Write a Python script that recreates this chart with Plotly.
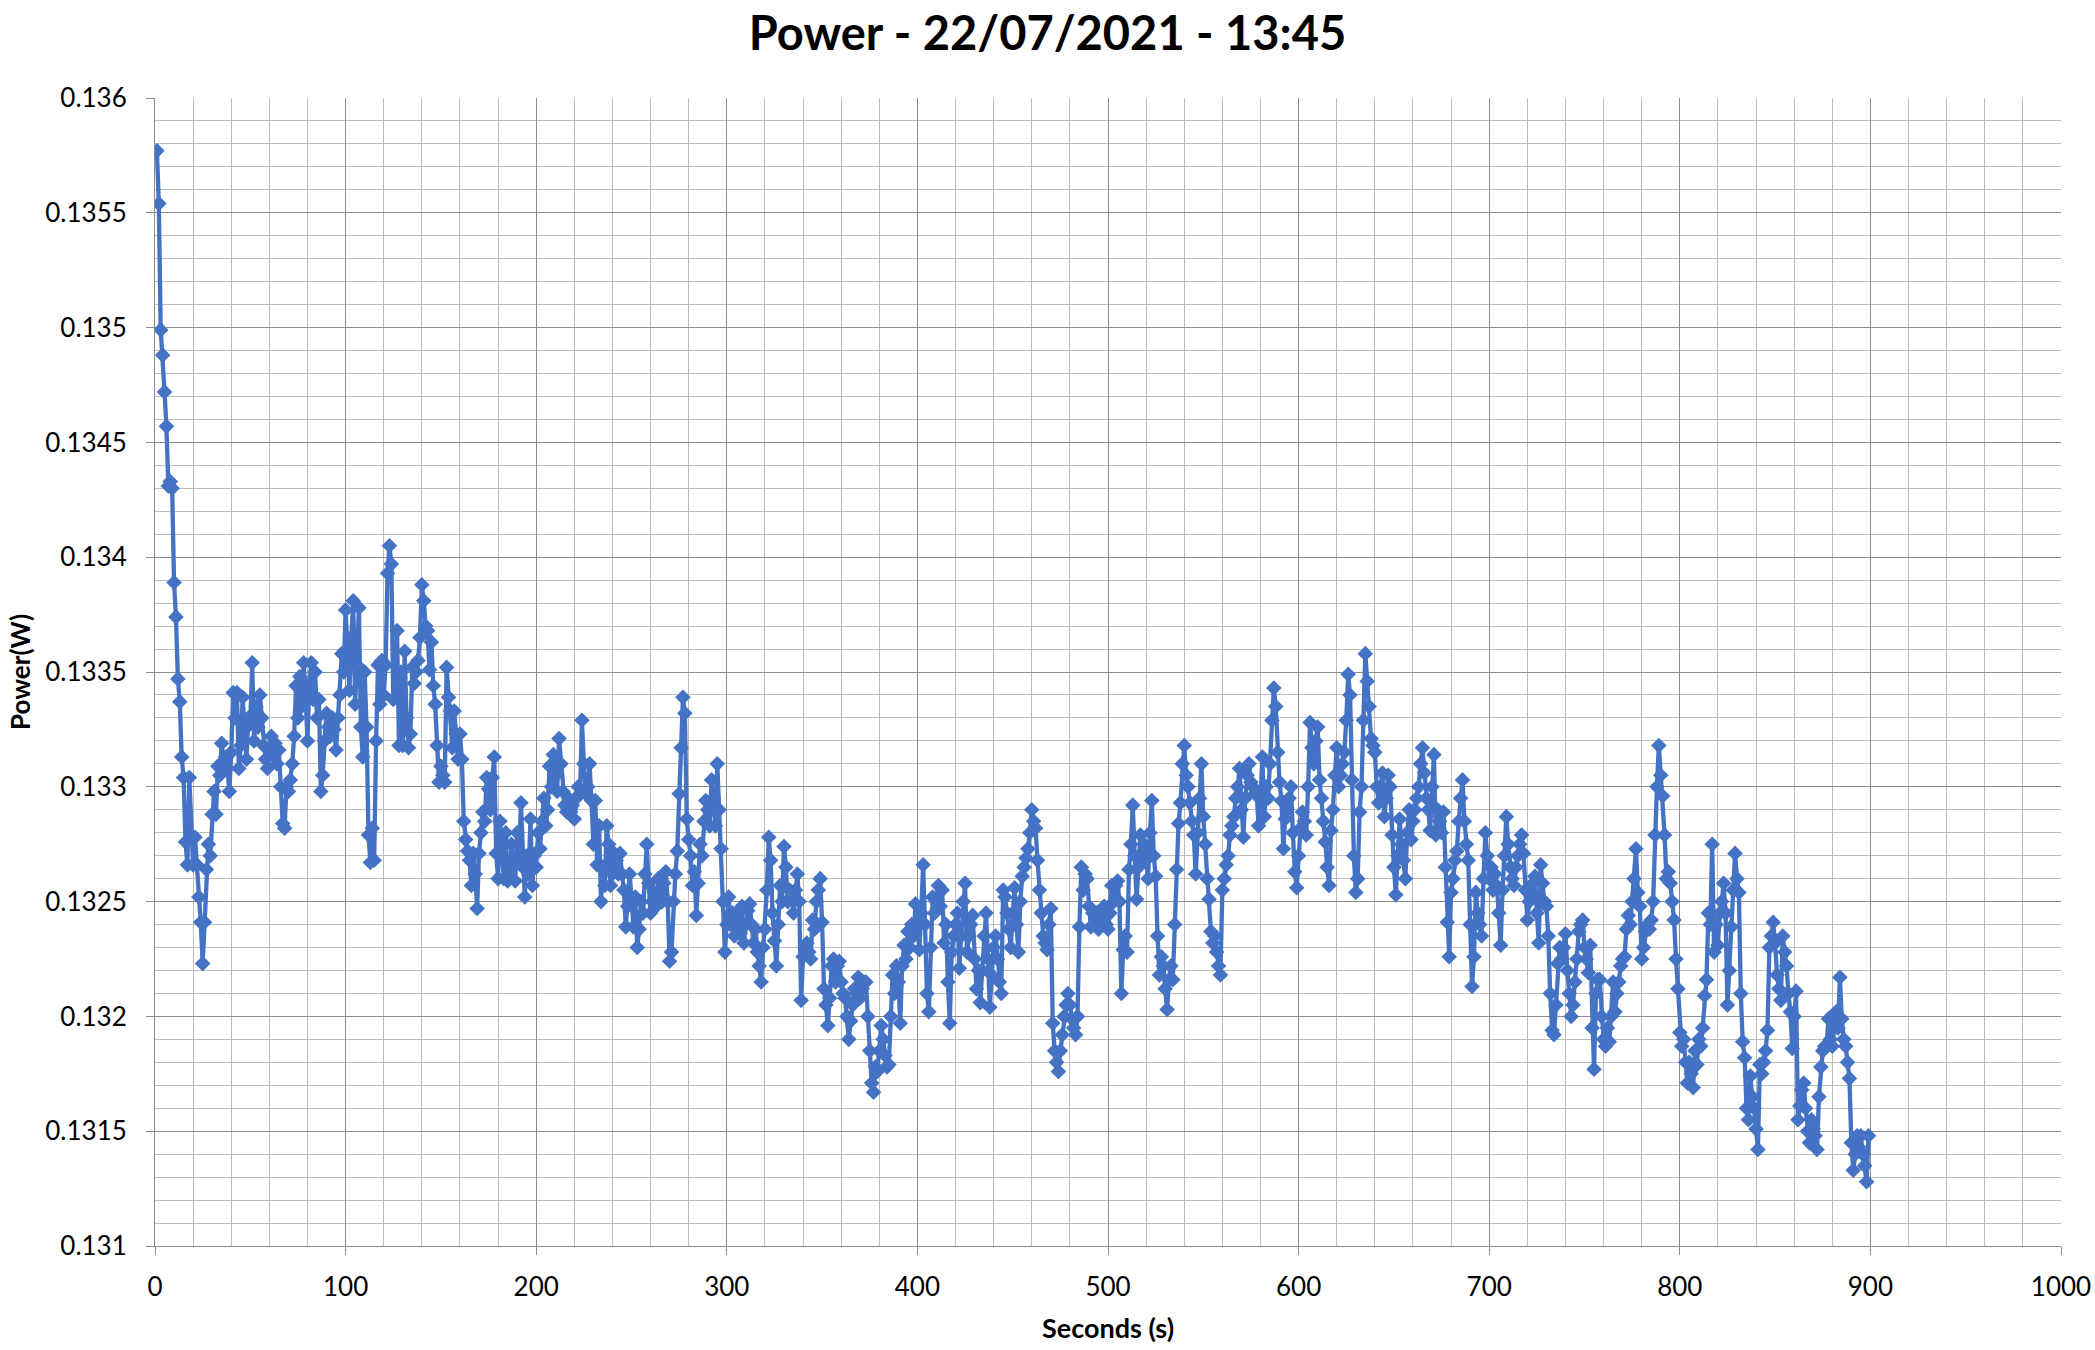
import plotly.graph_objects as go

TITLE = "Power - 22/07/2021 - 13:45"
X_TITLE = "Seconds (s)"
Y_TITLE = "Power(W)"

FIRST_SAMPLE_S = 1
SAMPLE_INTERVAL_S = 1

# Power readings (W), one per second, starting at t = 1 s
POWER_W = [
    0.13577, 0.13554, 0.13499, 0.13488, 0.13472, 0.13457, 0.13431, 0.13433, 0.13430, 0.13389,
    0.13374, 0.13347, 0.13337, 0.13313, 0.13304, 0.13276, 0.13266, 0.13304, 0.13278, 0.13266,
    0.13278, 0.13266, 0.13252, 0.13241, 0.13223, 0.13241, 0.13264, 0.13275, 0.13270, 0.13288,
    0.13298, 0.13288, 0.13309, 0.13305, 0.13319, 0.13310, 0.13313, 0.13308, 0.13298, 0.13315,
    0.13341, 0.13330, 0.13341, 0.13308, 0.13318, 0.13339, 0.13325, 0.13312, 0.13330, 0.13328,
    0.13354, 0.13320, 0.13335, 0.13326, 0.13340, 0.13330, 0.13318, 0.13312, 0.13308, 0.13317,
    0.13322, 0.13314, 0.13319, 0.13310, 0.13316, 0.13300, 0.13284, 0.13282, 0.13300, 0.13298,
    0.13303, 0.13310, 0.13322, 0.13344, 0.13330, 0.13348, 0.13335, 0.13354, 0.13340, 0.13320,
    0.13345, 0.13354, 0.13338, 0.13350, 0.13330, 0.13338, 0.13298, 0.13305, 0.13320, 0.13332,
    0.13326, 0.13322, 0.13330, 0.13325, 0.13316, 0.13330, 0.13340, 0.13358, 0.13350, 0.13377,
    0.13360, 0.13342, 0.13365, 0.13381, 0.13336, 0.13353, 0.13378, 0.13326, 0.13313, 0.13350,
    0.13326, 0.13279, 0.13267, 0.13282, 0.13268, 0.13320, 0.13353, 0.13336, 0.13355, 0.13340,
    0.13353, 0.13393, 0.13405, 0.13397, 0.13338, 0.13339, 0.13368, 0.13318, 0.13350, 0.13318,
    0.13359, 0.13330, 0.13317, 0.13323, 0.13352, 0.13345, 0.13350, 0.13355, 0.13365, 0.13388,
    0.13381, 0.13370, 0.13368, 0.13351, 0.13363, 0.13344, 0.13336, 0.13318, 0.13302, 0.13309,
    0.13305, 0.13302, 0.13352, 0.13339, 0.13333, 0.13317, 0.13333, 0.13323, 0.13312, 0.13323,
    0.13312, 0.13285, 0.13277, 0.13272, 0.13268, 0.13257, 0.13271, 0.13262, 0.13247, 0.13271,
    0.13280, 0.13289, 0.13285, 0.13304, 0.13299, 0.13290, 0.13304, 0.13313, 0.13271, 0.13260,
    0.13285, 0.13275, 0.13260, 0.13280, 0.13259, 0.13260, 0.13275, 0.13266, 0.13259, 0.13280,
    0.13270, 0.13293, 0.13265, 0.13252, 0.13270, 0.13262, 0.13286, 0.13257, 0.13270, 0.13265,
    0.13280, 0.13273, 0.13285, 0.13295, 0.13283, 0.13290, 0.13309, 0.13300, 0.13314, 0.13305,
    0.13298, 0.13321, 0.13310, 0.13298, 0.13292, 0.13289, 0.13295, 0.13289, 0.13292, 0.13286,
    0.13295, 0.13300, 0.13297, 0.13329, 0.13310, 0.13297, 0.13300, 0.13310, 0.13294, 0.13275,
    0.13294, 0.13266, 0.13283, 0.13250, 0.13265, 0.13257, 0.13283, 0.13275, 0.13257, 0.13262,
    0.13271, 0.13268, 0.13262, 0.13271, 0.13262, 0.13255, 0.13239, 0.13248, 0.13262, 0.13252,
    0.13239, 0.13252, 0.13230, 0.13238, 0.13250, 0.13245, 0.13262, 0.13275, 0.13258, 0.13245,
    0.13250, 0.13254, 0.13248, 0.13260, 0.13254, 0.13250, 0.13258, 0.13263, 0.13250, 0.13224,
    0.13228, 0.13250, 0.13262, 0.13272, 0.13297, 0.13317, 0.13339, 0.13332, 0.13286, 0.13277,
    0.13270, 0.13257, 0.13263, 0.13244, 0.13258, 0.13275, 0.13270, 0.13285, 0.13294, 0.13290,
    0.13283, 0.13303, 0.13295, 0.13283, 0.13310, 0.13290, 0.13273, 0.13250, 0.13228, 0.13240,
    0.13252, 0.13240, 0.13245, 0.13235, 0.13245, 0.13240, 0.13236, 0.13248, 0.13232, 0.13240,
    0.13246, 0.13249, 0.13240, 0.13232, 0.13238, 0.13228, 0.13222, 0.13215, 0.13230, 0.13238,
    0.13255, 0.13278, 0.13268, 0.13245, 0.13233, 0.13222, 0.13240, 0.13257, 0.13250, 0.13274,
    0.13265, 0.13250, 0.13255, 0.13252, 0.13245, 0.13255, 0.13262, 0.13250, 0.13207, 0.13226,
    0.13230, 0.13232, 0.13228, 0.13225, 0.13242, 0.13238, 0.13250, 0.13255, 0.13260, 0.13241,
    0.13212, 0.13205, 0.13196, 0.13208, 0.13222, 0.13225, 0.13215, 0.13222, 0.13224, 0.13215,
    0.13210, 0.13208, 0.13200, 0.13190, 0.13198, 0.13205, 0.13212, 0.13210, 0.13217, 0.13208,
    0.13212, 0.13215, 0.13215, 0.13200, 0.13185, 0.13171, 0.13167, 0.13178, 0.13176, 0.13185,
    0.13196, 0.13190, 0.13183, 0.13178, 0.13179, 0.13200, 0.13218, 0.13210, 0.13222, 0.13215,
    0.13197, 0.13222, 0.13231, 0.13225, 0.13237, 0.13230, 0.13240, 0.13235, 0.13249, 0.13240,
    0.13229, 0.13245, 0.13266, 0.13240, 0.13210, 0.13202, 0.13230, 0.13252, 0.13245, 0.13250,
    0.13257, 0.13248, 0.13255, 0.13232, 0.13240, 0.13215, 0.13197, 0.13228, 0.13235, 0.13240,
    0.13245, 0.13221, 0.13235, 0.13250, 0.13258, 0.13228, 0.13235, 0.13240, 0.13244, 0.13225,
    0.13212, 0.13220, 0.13206, 0.13220, 0.13235, 0.13245, 0.13225, 0.13204, 0.13218, 0.13230,
    0.13235, 0.13225, 0.13215, 0.13210, 0.13255, 0.13252, 0.13245, 0.13238, 0.13230, 0.13245,
    0.13256, 0.13240, 0.13228, 0.13250, 0.13261, 0.13265, 0.13269, 0.13273, 0.13280, 0.13290,
    0.13285, 0.13282, 0.13268, 0.13255, 0.13245, 0.13235, 0.13232, 0.13229, 0.13240, 0.13247,
    0.13197, 0.13185, 0.13180, 0.13176, 0.13185, 0.13192, 0.13200, 0.13205, 0.13210, 0.13205,
    0.13199, 0.13195, 0.13192, 0.13200, 0.13239, 0.13265, 0.13255, 0.13262, 0.13260, 0.13248,
    0.13239, 0.13245, 0.13240, 0.13245, 0.13238, 0.13245, 0.13241, 0.13248, 0.13240, 0.13238,
    0.13245, 0.13257, 0.13250, 0.13257, 0.13259, 0.13250, 0.13210, 0.13229, 0.13235, 0.13228,
    0.13264, 0.13275, 0.13292, 0.13270, 0.13251, 0.13265, 0.13279, 0.13270, 0.13275, 0.13268,
    0.13260, 0.13280, 0.13294, 0.13270, 0.13261, 0.13235, 0.13218, 0.13226, 0.13222, 0.13212,
    0.13203, 0.13216, 0.13222, 0.13216, 0.13240, 0.13264, 0.13284, 0.13293, 0.13310, 0.13318,
    0.13305, 0.13300, 0.13293, 0.13285, 0.13279, 0.13262, 0.13280, 0.13295, 0.13310, 0.13287,
    0.13275, 0.13260, 0.13251, 0.13237, 0.13232, 0.13235, 0.13228, 0.13222, 0.13218, 0.13255,
    0.13260, 0.13266, 0.13270, 0.13279, 0.13283, 0.13287, 0.13295, 0.13300, 0.13308, 0.13290,
    0.13278, 0.13295, 0.13305, 0.13310, 0.13302, 0.13300, 0.13297, 0.13297, 0.13283, 0.13295,
    0.13313, 0.13287, 0.13300, 0.13295, 0.13310, 0.13329, 0.13343, 0.13335, 0.13315, 0.13302,
    0.13294, 0.13273, 0.13286, 0.13290, 0.13295, 0.13300, 0.13280, 0.13263, 0.13256, 0.13270,
    0.13282, 0.13289, 0.13285, 0.13279, 0.13300, 0.13328, 0.13317, 0.13310, 0.13320, 0.13326,
    0.13303, 0.13295, 0.13285, 0.13276, 0.13265, 0.13257, 0.13281, 0.13290, 0.13305, 0.13317,
    0.13300, 0.13305, 0.13310, 0.13315, 0.13329, 0.13349, 0.13340, 0.13303, 0.13270, 0.13254,
    0.13260, 0.13289, 0.13300, 0.13329, 0.13358, 0.13346, 0.13335, 0.13321, 0.13318, 0.13315,
    0.13300, 0.13293, 0.13300, 0.13306, 0.13287, 0.13295, 0.13305, 0.13300, 0.13279, 0.13265,
    0.13253, 0.13270, 0.13286, 0.13275, 0.13268, 0.13260, 0.13280, 0.13290, 0.13277, 0.13285,
    0.13290, 0.13295, 0.13300, 0.13310, 0.13317, 0.13306, 0.13295, 0.13290, 0.13281, 0.13300,
    0.13314, 0.13279, 0.13290, 0.13285, 0.13280, 0.13289, 0.13265, 0.13241, 0.13226, 0.13254,
    0.13260, 0.13268, 0.13272, 0.13285, 0.13295, 0.13303, 0.13285, 0.13275, 0.13268, 0.13240,
    0.13213, 0.13226, 0.13254, 0.13245, 0.13240, 0.13235, 0.13260, 0.13280, 0.13270, 0.13260,
    0.13265, 0.13255, 0.13262, 0.13257, 0.13245, 0.13231, 0.13255, 0.13270, 0.13287, 0.13275,
    0.13265, 0.13260, 0.13257, 0.13265, 0.13270, 0.13275, 0.13279, 0.13271, 0.13255, 0.13242,
    0.13250, 0.13252, 0.13258, 0.13261, 0.13245, 0.13232, 0.13266, 0.13258, 0.13250, 0.13248,
    0.13235, 0.13210, 0.13194, 0.13192, 0.13205, 0.13223, 0.13230, 0.13225, 0.13230, 0.13236,
    0.13220, 0.13210, 0.13200, 0.13205, 0.13215, 0.13225, 0.13237, 0.13240, 0.13242, 0.13230,
    0.13225, 0.13219, 0.13231, 0.13195, 0.13177, 0.13210, 0.13216, 0.13216, 0.13200, 0.13190,
    0.13187, 0.13195, 0.13189, 0.13200, 0.13215, 0.13202, 0.13210, 0.13215, 0.13222, 0.13225,
    0.13226, 0.13238, 0.13244, 0.13240, 0.13250, 0.13260, 0.13273, 0.13254, 0.13248, 0.13225,
    0.13230, 0.13237, 0.13240, 0.13238, 0.13242, 0.13250, 0.13279, 0.13300, 0.13318, 0.13305,
    0.13296, 0.13279, 0.13260, 0.13263, 0.13258, 0.13250, 0.13242, 0.13225, 0.13212, 0.13193,
    0.13187, 0.13190, 0.13180, 0.13171, 0.13180, 0.13175, 0.13169, 0.13185, 0.13179, 0.13190,
    0.13187, 0.13195, 0.13209, 0.13216, 0.13245, 0.13240, 0.13275, 0.13228, 0.13240, 0.13231,
    0.13245, 0.13250, 0.13258, 0.13245, 0.13205, 0.13220, 0.13239, 0.13255, 0.13271, 0.13260,
    0.13254, 0.13210, 0.13189, 0.13182, 0.13160, 0.13155, 0.13174, 0.13165, 0.13160, 0.13151,
    0.13142, 0.13179, 0.13175, 0.13180, 0.13185, 0.13194, 0.13230, 0.13235, 0.13241, 0.13232,
    0.13218, 0.13212, 0.13207, 0.13235, 0.13228, 0.13222, 0.13210, 0.13202, 0.13186, 0.13200,
    0.13211, 0.13155, 0.13161, 0.13168, 0.13171, 0.13160, 0.13150, 0.13145, 0.13155, 0.13151,
    0.13148, 0.13142, 0.13165, 0.13178, 0.13185, 0.13187, 0.13187, 0.13199, 0.13190, 0.13187,
    0.13195, 0.13202, 0.13195, 0.13217, 0.13199, 0.13190, 0.13187, 0.13180, 0.13173, 0.13145,
    0.13133, 0.13140, 0.13148, 0.13143, 0.13148, 0.13140, 0.13135, 0.13128, 0.13148,
]

SECONDS = [FIRST_SAMPLE_S + i * SAMPLE_INTERVAL_S for i in range(len(POWER_W))]

X_RANGE = [0, 1000]
X_TICKS = [0, 100, 200, 300, 400, 500, 600, 700, 800, 900, 1000]
Y_RANGE = [0.131, 0.136]
Y_TICKS = [0.131, 0.1315, 0.132, 0.1325, 0.133, 0.1335, 0.134, 0.1345, 0.135, 0.1355, 0.136]
Y_TICK_LABELS = ["0.131", "0.1315", "0.132", "0.1325", "0.133", "0.1335",
                 "0.134", "0.1345", "0.135", "0.1355", "0.136"]

BLUE = "#4472C4"
MAJOR_GRID = "#8c8c8c"
MINOR_GRID = "#bdbdbd"
FONT = "Lato"

FIG_W, FIG_H = 2095, 1350
M_L, M_R, M_T, M_B = 155, 34, 98, 104
PLOT_W = FIG_W - M_L - M_R
PLOT_H = FIG_H - M_T - M_B

fig = go.Figure()
fig.add_trace(go.Scatter(
    x=SECONDS, y=POWER_W, mode="lines+markers",
    line=dict(color=BLUE, width=4.3),
    marker=dict(symbol="diamond", size=12, color=BLUE),
    showlegend=False,
))

fig.update_layout(
    width=FIG_W, height=FIG_H,
    margin=dict(l=M_L, r=M_R, t=M_T, b=M_B, autoexpand=False),
    paper_bgcolor="white", plot_bgcolor="white",
    font=dict(family=FONT, size=26, color="black"),
    title=dict(text="<b>" + TITLE + "</b>", font=dict(family=FONT, size=47, color="black"),
               x=0.5, xref="container", xanchor="center",
               y=1 - 34 / FIG_H, yref="container", yanchor="middle"),
    annotations=[
        dict(text="<b>" + X_TITLE + "</b>", xref="paper", yref="paper",
             x=0.5, y=-(1327 - (FIG_H - M_B)) / PLOT_H, xanchor="center", yanchor="middle",
             showarrow=False, font=dict(family=FONT, size=27, color="black")),
        dict(text="<b>" + Y_TITLE + "</b>", xref="paper", yref="paper",
             x=-(M_L - 20) / PLOT_W, y=0.5, xanchor="center", yanchor="middle",
             textangle=-90, showarrow=False, font=dict(family=FONT, size=26, color="black")),
    ],
)

fig.update_xaxes(
    range=X_RANGE, tickmode="array", tickvals=X_TICKS,
    showgrid=True, gridcolor=MAJOR_GRID, gridwidth=1,
    showline=True, linecolor=MAJOR_GRID, linewidth=1,
    ticks="outside", ticklen=8, tickcolor=MAJOR_GRID, ticklabelstandoff=10,
    ticklabeloverflow="allow",
    minor=dict(tick0=0, dtick=20, showgrid=True, gridcolor=MINOR_GRID, gridwidth=1),
    zeroline=False, automargin=False,
)
fig.update_yaxes(
    range=Y_RANGE, tickmode="array", tickvals=Y_TICKS, ticktext=Y_TICK_LABELS,
    showgrid=True, gridcolor=MAJOR_GRID, gridwidth=1,
    showline=True, linecolor=MAJOR_GRID, linewidth=1,
    ticks="outside", ticklen=8, tickcolor=MAJOR_GRID, ticklabelstandoff=14,
    ticklabeloverflow="allow",
    minor=dict(tick0=0.131, dtick=0.0001, showgrid=True, gridcolor=MINOR_GRID, gridwidth=1),
    zeroline=False, automargin=False,
)

# remove the browser's default 8px body margin so the figure fills the window exactly
fig.write_html("out.html", config={"displayModeBar": False},
               post_script="document.body.style.margin='0px';")
